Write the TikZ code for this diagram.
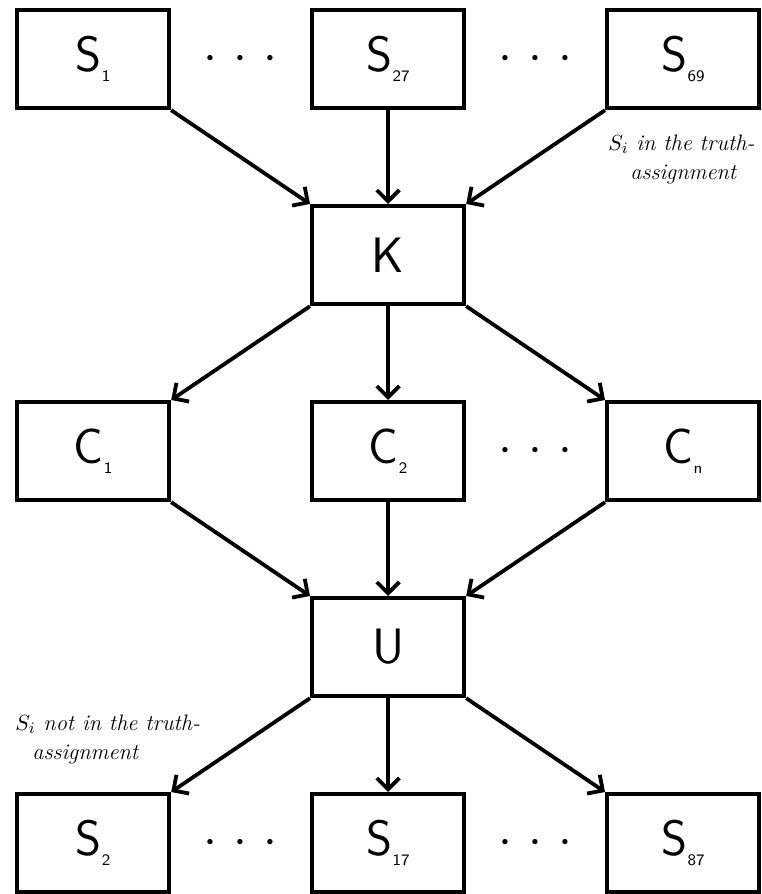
\documentclass[tikz,border=0pt]{standalone}
\usepackage{amsmath,amssymb}
\usetikzlibrary{arrows.meta, positioning, calc}
\tikzset{
  setbox/.style={
    rectangle, draw=black, line width=2.1pt, minimum width=76pt, minimum height=49pt,
    inner sep=0pt, align=center, font=\Huge\sffamily
  },
  edge/.style={-{Straight Barb[angle=90:8pt]}, line width=1.9pt},
  dotrow/.style={font=\Huge, inner sep=0pt},
  note/.style={font=\fontsize{11.2}{14.5}\selectfont\itshape, align=left, inner sep=0pt}
}
\newcommand{\setlab}[2]{#1\raisebox{-5pt}{\fontsize{8}{8}\selectfont #2}}

\begin{document}
\begin{tikzpicture}
    \useasboundingbox (0,0) rectangle (380.5pt,-447pt);
    % top row of sets
    \node[setbox, anchor=north west] (sTL) at (7.5pt,-4pt) {\setlab{S}{1}};
    \node[setbox, right=69.4pt of sTL] (sTM) {\setlab{S}{27}};
    \node[setbox, right=69.4pt of sTM] (sTR) {\setlab{S}{69}};
    \node[setbox, below=46.9pt of sTM] (k) {K};
    % clauses
    \node[setbox, below=46.9pt of k] (cM) {\setlab{C}{2}};
    \node[setbox, left=69.4pt of cM] (cL) {\setlab{C}{1}};
    \node[setbox, right=69.4pt of cM] (cR) {\setlab{C}{n}};
    \node[setbox, below=46.9pt of cM] (u) {U};
    % bottom row of sets
    \node[setbox, below=46.9pt of u] (sBM) {\setlab{S}{17}};
    \node[setbox, left=69.4pt of sBM] (sBL) {\setlab{S}{2}};
    \node[setbox, right=69.4pt of sBM] (sBR) {\setlab{S}{87}};
    \node[dotrow] (dTL) at ($(sTL)!0.5!(sTM)$) {$\cdotp\,\cdotp\,\cdotp$};
    \node[dotrow] (dTR) at ($(sTM)!0.5!(sTR)$) {$\cdotp\,\cdotp\,\cdotp$};
    \node[dotrow] (dC) at ($(cM)!0.5!(cR)$) {$\cdotp\,\cdotp\,\cdotp$};
    \node[dotrow] (dBL) at ($(sBL)!0.5!(sBM)$) {$\cdotp\,\cdotp\,\cdotp$};
    \node[dotrow] (dBR) at ($(sBM)!0.5!(sBR)$) {$\cdotp\,\cdotp\,\cdotp$};
    \node[note, below=12pt of sTR.south west, anchor=north west, xshift=1.5pt] (nIn)
        {$S_i$ in the truth-\\\hspace*{11pt}assignment};
    \node[note, above=14pt of sBL.north west, anchor=south west] (nOut)
        {$S_i$ not in the truth-\\\hspace*{8.5pt}assignment};
    \draw[edge] (sTL.south east) -- (k.north west);
    \draw[edge] (sTM.south) -- (k.north);
    \draw[edge] (sTR.south west) -- (k.north east);
    \draw[edge] (k.south west) -- (cL.north east);
    \draw[edge] (k.south) -- (cM.north);
    \draw[edge] (k.south east) -- (cR.north west);
    \draw[edge] (cL.south east) -- (u.north west);
    \draw[edge] (cM.south) -- (u.north);
    \draw[edge] (cR.south west) -- (u.north east);
    \draw[edge] (u.south west) -- (sBL.north east);
    \draw[edge] (u.south) -- (sBM.north);
    \draw[edge] (u.south east) -- (sBR.north west);
\end{tikzpicture}
\end{document}
